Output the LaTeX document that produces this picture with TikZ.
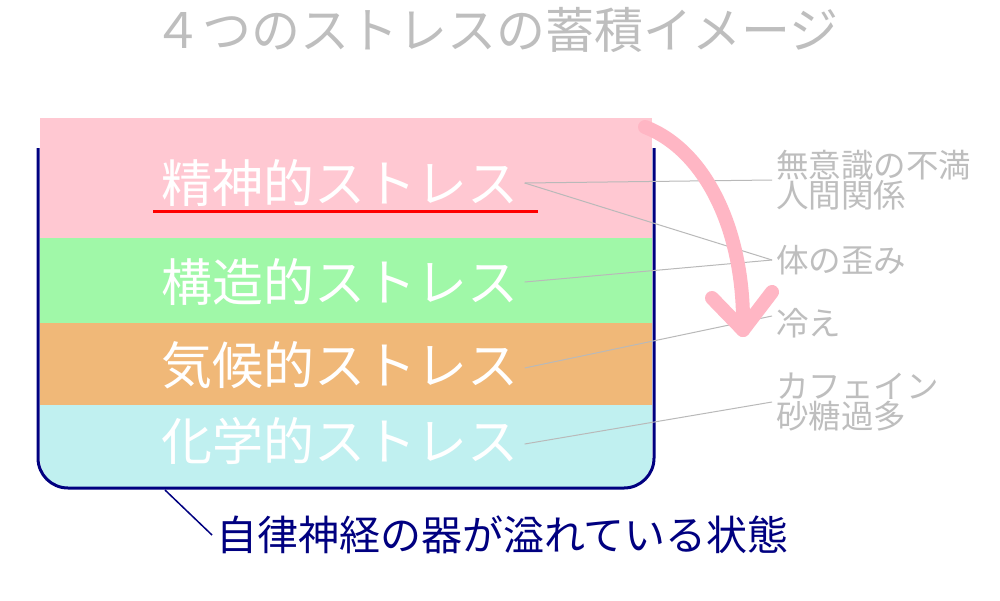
\documentclass[tikz,border=0pt]{standalone}
\usepackage{fontspec}
\setmainfont{Noto Sans CJK JP}
\definecolor{lpink}{RGB}{255,200,210}
\definecolor{lgreen}{RGB}{160,248,168}
\definecolor{lorange}{RGB}{240,184,120}
\definecolor{lcyan}{RGB}{192,240,240}
\definecolor{navyc}{RGB}{0,0,128}
\definecolor{gtext}{RGB}{190,190,190}
\definecolor{gline}{RGB}{185,185,185}
\definecolor{arrpink}{RGB}{255,182,196}
\tikzset{
  layertext/.style={text=white,font=\fontsize{51}{51}\selectfont,inner sep=6pt},
  sidelabel/.style={text=gtext,font=\fontsize{32.5}{32.5}\selectfont,anchor=west,align=left,inner sep=4pt},
  leader/.style={draw=gline,line width=1pt},
}
\begin{document}
\begin{tikzpicture}[x=1pt,y=-1pt]
\useasboundingbox[fill=white] (0,0) rectangle (1000,600);
% title
\node[text=gtext,font=\fontsize{49}{49}\selectfont] (title) at (496,30) {４つのストレスの蓄積イメージ};
% layers
\fill[lcyan,rounded corners=30pt] (40,380) -- (40,488) -- (652,488) -- (652,380) -- cycle;
\fill[lcyan] (40,405) rectangle (652,430);
\fill[lorange] (40,323) rectangle (652,405);
\fill[lgreen] (40,238) rectangle (652,323);
\fill[lpink] (40,118) rectangle (652,238);
% vessel
\draw[navyc,line width=3pt,rounded corners=30pt] (38,148) -- (38,488) -- (654,488) -- (654,148);
% layer texts
\node[layertext] (s1) at (340,183) {精神的ストレス};
\node[layertext] (s2) at (340,282) {構造的ストレス};
\node[layertext] (s3) at (340,365) {気候的ストレス};
\node[layertext] (s4) at (340,441) {化学的ストレス};
\draw[red,line width=3pt] (153,211) -- (538,211);
% side labels
\node[sidelabel] (l1) at (772,180) {無意識の不満\\[-2pt]人間関係};
\node[sidelabel] (l2) at (772,260) {体の歪み};
\node[sidelabel] (l3) at (772,323) {冷え};
\node[sidelabel] (l4) at (772,402) {カフェイン\\[-2pt]砂糖過多};
% leaders
\draw[leader] (s1.east) -- (l1.west);
\draw[leader] (s1.east) -- (l2.west);
\draw[leader] (s2.east) -- (l2.west);
\draw[leader] ([yshift=-3pt]s3.east) -- ([yshift=7pt]l3.west);
\draw[leader] ([yshift=-3pt]s4.east) -- (l4.west);
% pink arrow
\coordinate (a0) at (645,127);
\coordinate (a1) at (743,330);
\coordinate (h1) at (712,298);
\coordinate (h2) at (772,292);
\draw[arrpink,line width=14pt,line cap=round,line join=round] (a0) .. controls (705,150) and (745,230) .. (a1);
\draw[arrpink,line width=14pt,line cap=round,line join=round] (h1) -- (a1) -- (h2);
% bottom caption
\coordinate (vb) at (165,490);
\node[text=navyc,font=\fontsize{41}{41}\selectfont,anchor=west,inner sep=4pt] (cap) at (212,535) {自律神経の器が溢れている状態};
\draw[navyc,line width=1.5pt] (vb) -- (cap.west);
\end{tikzpicture}
\end{document}
